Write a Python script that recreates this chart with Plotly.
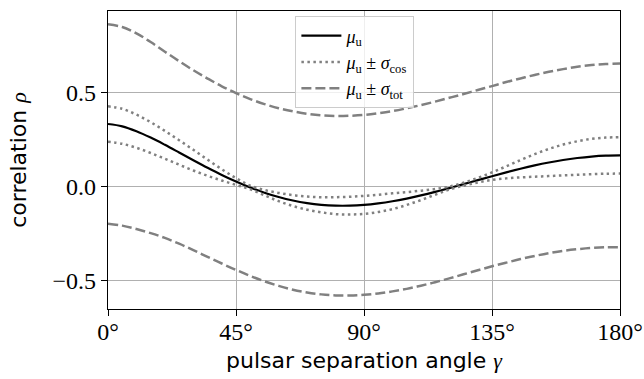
import plotly.graph_objects as go

# pulsar separation angle (degrees)
gamma_deg = [0, 5, 10, 15, 20, 25, 30, 35, 40, 45, 50, 55, 60, 65, 70, 75, 80, 85, 90,
             95, 100, 105, 110, 115, 120, 125, 130, 135, 140, 145, 150, 155, 160, 165, 170, 175, 180]
# mean correlation mu_u
mu_u = [0.3333, 0.3211, 0.2950, 0.2611, 0.2227, 0.1821, 0.1411, 0.1010, 0.0628, 0.0276,
        -0.0041, -0.0317, -0.0549, -0.0735, -0.0873, -0.0963, -0.1007, -0.1007, -0.0966,
        -0.0886, -0.0773, -0.0630, -0.0462, -0.0275, -0.0074, 0.0135, 0.0348, 0.0559,
        0.0763, 0.0955, 0.1131, 0.1287, 0.1420, 0.1526, 0.1604, 0.1651, 0.1667]
# cosmic standard deviation
sigma_cos = [0.094, 0.093, 0.088, 0.082, 0.074, 0.065, 0.055, 0.043, 0.030, 0.018,
             0.010, 0.014, 0.022, 0.029, 0.035, 0.040, 0.045, 0.047, 0.048,
             0.046, 0.042, 0.034, 0.025, 0.015, 0.008, 0.008, 0.012, 0.020,
             0.032, 0.046, 0.060, 0.072, 0.082, 0.089, 0.094, 0.096, 0.097]
# total standard deviation
sigma_tot = [0.530, 0.528, 0.520, 0.508, 0.495, 0.485, 0.478, 0.474, 0.471, 0.470,
             0.470, 0.471, 0.472, 0.474, 0.475, 0.476, 0.477, 0.478, 0.478,
             0.479, 0.479, 0.480, 0.480, 0.480, 0.480, 0.479, 0.479, 0.479,
             0.480, 0.480, 0.481, 0.482, 0.483, 0.485, 0.486, 0.487, 0.488]

x_tickvals = [0, 45, 90, 135, 180]
x_ticktext = ["0°", "45°", "90°", "135°", "180°"]
y_tickvals = [-0.5, 0.0, 0.5]
y_ticktext = ["−0.5", "0.0", "0.5"]

GRAY = "#808080"
SERIF = "Liberation Serif"

cos_hi = [m + s for m, s in zip(mu_u, sigma_cos)]
cos_lo = [m - s for m, s in zip(mu_u, sigma_cos)]
tot_hi = [m + s for m, s in zip(mu_u, sigma_tot)]
tot_lo = [m - s for m, s in zip(mu_u, sigma_tot)]

fig = go.Figure()
fig.add_trace(go.Scatter(x=gamma_deg, y=mu_u, mode="lines", line_shape="spline",
                         line=dict(color="black", width=2.2),
                         name="<i>μ</i><sub>u</sub>"))
fig.add_trace(go.Scatter(x=gamma_deg, y=cos_hi, mode="lines", line_shape="spline",
                         line=dict(color=GRAY, width=2.5, dash="2.5px,3.5px"),
                         name="<i>μ</i><sub>u</sub> ± <i>σ</i><sub>cos</sub>", legendgroup="cos"))
fig.add_trace(go.Scatter(x=gamma_deg, y=cos_lo, mode="lines", line_shape="spline",
                         line=dict(color=GRAY, width=2.5, dash="2.5px,3.5px"),
                         showlegend=False, legendgroup="cos"))
fig.add_trace(go.Scatter(x=gamma_deg, y=tot_hi, mode="lines", line_shape="spline",
                         line=dict(color=GRAY, width=2.5, dash="10px,4px"),
                         name="<i>μ</i><sub>u</sub> ± <i>σ</i><sub>tot</sub>", legendgroup="tot"))
fig.add_trace(go.Scatter(x=gamma_deg, y=tot_lo, mode="lines", line_shape="spline",
                         line=dict(color=GRAY, width=2.5, dash="10px,4px"),
                         showlegend=False, legendgroup="tot"))

fig.update_layout(
    width=644, height=379,
    margin=dict(l=108, r=24, t=11, b=70, autoexpand=False),
    paper_bgcolor="white", plot_bgcolor="white",
    showlegend=True,
    legend=dict(x=0.366, y=0.982, xanchor="left", yanchor="top",
                bgcolor="rgba(255,255,255,0.8)", bordercolor="#cccccc", borderwidth=1,
                font=dict(family=SERIF, size=18, color="black"),
                itemwidth=40, tracegroupgap=0),
    xaxis=dict(range=[0, 180], tickvals=x_tickvals, ticktext=x_ticktext,
               showgrid=True, gridcolor="#b0b0b0", gridwidth=1,
               showline=True, linecolor="black", linewidth=1.3, mirror=True,
               ticks="outside", ticklen=6, tickcolor="black", tickwidth=1.2,
               zeroline=False, ticklabelstandoff=-5,
               tickfont=dict(family=SERIF, size=24, color="black"),
               title=dict(text="pulsar separation angle <span style=\"font-family:Liberation Serif\"><i>γ</i></span>",
                          font=dict(family="DejaVu Sans", size=22, color="black"), standoff=8)),
    yaxis=dict(range=[-0.65, 0.934], tickvals=y_tickvals, ticktext=y_ticktext,
               showgrid=True, gridcolor="#b0b0b0", gridwidth=1,
               showline=True, linecolor="black", linewidth=1.3, mirror=True,
               ticks="outside", ticklen=6, tickcolor="black", tickwidth=1.2,
               zeroline=False,
               tickfont=dict(family=SERIF, size=24, color="black"),
               title=dict(text="correlation <span style=\"font-family:Liberation Serif\"><i>ρ</i></span>",
                          font=dict(family="DejaVu Sans", size=22, color="black"), standoff=19)),
)

fig.write_html("out.html")
